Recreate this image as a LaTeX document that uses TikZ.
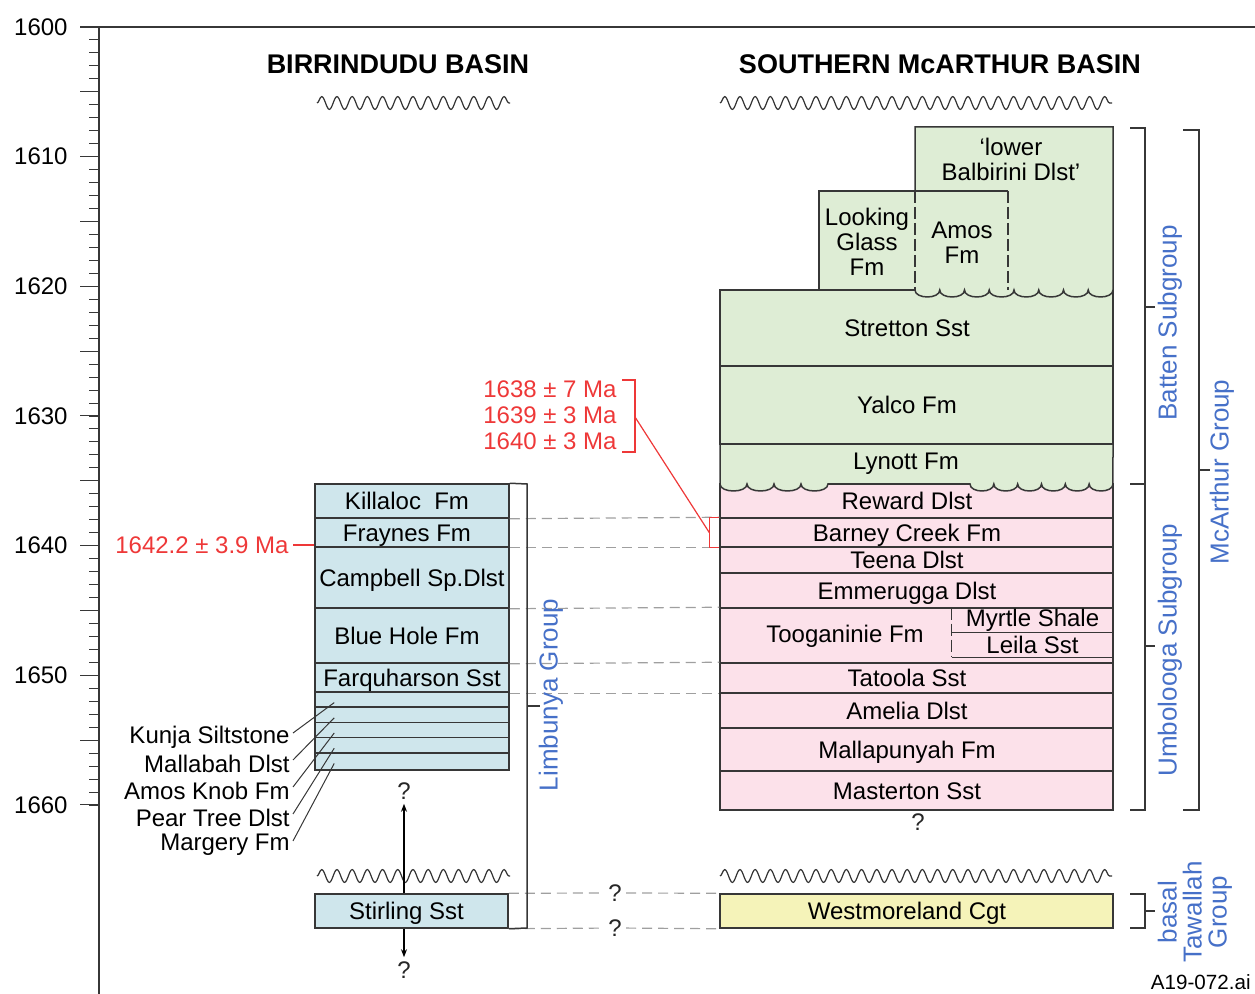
\documentclass[tikz,border=0pt]{standalone}
\usepackage{fontspec}
\setmainfont{Liberation Sans}
\usepackage{tikz}
\usetikzlibrary{positioning,arrows.meta,calc,decorations.pathmorphing}
\definecolor{birblue}{RGB}{207,230,236}
\definecolor{batgreen}{RGB}{222,237,213}
\definecolor{umbpink}{RGB}{252,225,234}
\definecolor{tawyellow}{RGB}{245,243,185}
\definecolor{grpblue}{RGB}{70,112,200}
\definecolor{agered}{RGB}{238,56,56}
\definecolor{edgegray}{RGB}{55,55,55}

\begin{document}
\begin{tikzpicture}[x=0.5pt, y=-0.5pt, >={Stealth[length=4pt,width=3pt]},
  every node/.style={font=\fontsize{12}{12.5}\selectfont, align=center, inner sep=0pt},
  lyr/.style={draw=edgegray, line width=0.75pt, fill=#1, text height=8.6pt, text depth=0pt},
  lyr/.default=umbpink,
  llyr/.style={lyr=birblue, execute at end node=\hspace*{5pt}},
  rlyr/.style={lyr=#1, execute at end node=\hspace*{9.5pt}},
  rlyr/.default=umbpink,
  edge/.style={draw=edgegray, line width=0.75pt},
  corr/.style={draw=gray!75, line width=0.6pt, dash pattern=on 5pt off 3pt},
  wavy/.style={draw=gray!40!black, line width=0.6pt, decorate,
    decoration={snake, amplitude=3.2pt, segment length=7.6pt}},
  grp/.style={rotate=90, text=grpblue, font=\fontsize{13}{12.5}\selectfont},
  qmark/.style={text=black!85, inner sep=2pt}]
  \def\lw{97pt}  \def\rw{196.5pt}
  \useasboundingbox (0,0) rectangle (1255,994);

  % age axis
  \draw[edge, line width=0.6pt] (80,27) -- (1255,27);
  \draw[edge, line width=0.6pt] (99,27) -- (99,994);
  \foreach \i in {0,...,60}
    \draw[edge, line width=0.5pt] (89,{27+12.967*\i}) -- (99,{27+12.967*\i});
  \foreach \i in {0,...,12}
    \draw[edge, line width=0.5pt] (80,{27+64.83*\i}) -- (99,{27+64.83*\i});
  \foreach \i in {0,...,6} {
    \pgfmathtruncatemacro\yr{1600+10*\i}
    \node[anchor=east] (yr\i) at (68,{27+129.67*\i}) {\yr};
  }

  \node[font=\bfseries\fontsize{13.5}{14}\selectfont] (birtitle) at (398,64) {BIRRINDUDU BASIN};
  \node[font=\bfseries\fontsize{13.5}{14}\selectfont] (mcatitle) at (940,64) {SOUTHERN McARTHUR BASIN};

  \draw[wavy] (317,103) -- (510,103);
  \draw[wavy] (720,103) -- (1112,103);
  \draw[wavy] (317,876) -- (510,876);
  \draw[wavy] (720,876) -- (1112,876);

  % Birrindudu column
  \node[llyr, minimum width=\lw, minimum height=17pt] (killaloc) at (412,501) {Killaloc\ \ Fm};
  \node[llyr, minimum width=\lw, minimum height=14.5pt] (fraynes) at (412,532.5) {Fraynes Fm};
  \node[lyr=birblue, minimum width=\lw, minimum height=30.5pt] (campbell) at (412,577.5) {Campbell Sp.Dlst};
  \node[llyr, minimum width=\lw, minimum height=27.5pt] (bluehole) at (412,635.5) {Blue Hole Fm};
  \node[lyr=birblue, minimum width=\lw, minimum height=15pt] (farq) at (412,678) {Farquharson Sst};
  \foreach \i in {0,...,4}
    \node[lyr=birblue, minimum width=\lw, minimum height=7.6pt] (thin\i) at (412,{700.6+15.2*\i}) {};
  \node[llyr, minimum width=96.5pt, minimum height=17pt] (stirling) at (411.5,911) {Stirling Sst};

  \foreach \unitname [count=\i from 0] in {Kunja Siltstone, Mallabah Dlst, Amos Knob Fm, Pear Tree Dlst, Margery Fm}
    \node[anchor=east] (unit\i) at (290,{737+27*\i}) {\unitname};
  \foreach \i in {0,...,4}
    \draw[edgegray, line width=0.5pt] ([xshift=1.5pt,yshift=2pt]unit\i.east) -- ($(thin\i.west)+(20,2)$);

  \node[qmark] (qup) at (404,791) {?};
  \node[qmark] (qdown) at (404,970) {?};
  \draw[->, black, line width=0.6pt] (stirling.north -| qup) -- (qup);
  \draw[->, black, line width=0.6pt] (stirling.south -| qdown) -- (qdown);

  % southern McArthur column
  \node[rlyr, minimum width=\rw, minimum height=17pt] (reward) at (916.5,501) {Reward Dlst};
  \node[rlyr, minimum width=\rw, minimum height=14.5pt] (barney) at (916.5,532.5) {Barney Creek Fm};
  \node[rlyr, minimum width=\rw, minimum height=13pt] (teena) at (916.5,560) {Teena Dlst};
  \node[rlyr, minimum width=\rw, minimum height=17.5pt] (emmerugga) at (916.5,590.5) {Emmerugga Dlst};
  \node[rlyr, minimum width=\rw, minimum height=27.5pt] (tooganinie) at (916.5,635.5) {};
  \node[rlyr, minimum width=\rw, minimum height=15pt] (tatoola) at (916.5,678) {Tatoola Sst};
  \node[rlyr, minimum width=\rw, minimum height=17.5pt] (amelia) at (916.5,710.5) {Amelia Dlst};
  \node[rlyr, minimum width=\rw, minimum height=21.5pt] (mallapunyah) at (916.5,749.5) {Mallapunyah Fm};
  \node[rlyr, minimum width=\rw, minimum height=19.5pt] (masterton) at (916.5,790.5) {Masterton Sst};
  \node[rlyr=tawyellow, minimum width=\rw, minimum height=17pt] (westmoreland) at (916.5,911) {Westmoreland Cgt};

  \node (toogtext) at (845,636) {Tooganinie Fm};
  \node[minimum width=80.5pt, minimum height=12pt] (myrtle) at (1032.5,620) {Myrtle Shale};
  \node[minimum width=80.5pt, minimum height=12.5pt] (leila) at (1032.5,644.5) {Leila Sst};
  \draw[edge, dash pattern=on 6pt off 2pt] (myrtle.north west) -- (leila.south west);
  \draw[edge] (myrtle.south west) -- (myrtle.south east);
  \draw[edge] (leila.south west) -- (leila.south east);
  \node[qmark] (qmast) at (918,822) {?};

  \draw[edge, fill=batgreen] (720,444) -- (720,484)
    \foreach \k in {0,...,3} { .. controls ({720+27*\k},493.3) and ({720+27*(\k+1)},493.3) .. ({720+27*(\k+1)},484) }
    -- (970,484)
    \foreach \k in {0,...,5} { .. controls ({970+23.83*\k},493.3) and ({970+23.83*(\k+1)},493.3) .. ({970+23.83*(\k+1)},484) }
    -- (1113,444);
  \node (lynott) at (906,464) {Lynott Fm};
  \node[rlyr=batgreen, minimum width=\rw, minimum height=39pt] (yalco) at (916.5,405) {Yalco Fm};
  \node[rlyr=batgreen, minimum width=\rw, minimum height=38pt] (stretton) at (916.5,328) {Stretton Sst};

  \draw[edge, fill=batgreen] (915,290) -- (819,290) -- (819,191) -- (915,191);
  \node (lookglass) at (867,242) {Looking\\Glass\\Fm};
  \draw[edge, fill=batgreen] (915,191) -- (915,127) -- (1113,127) -- (1113,290)
    \foreach \k in {0,...,7} { .. controls ({1113-24.75*\k},299.3) and ({1113-24.75*(\k+1)},299.3) .. ({1113-24.75*(\k+1)},290) };
  \node (balbirini) at (1011,159) {‘lower\\Balbirini Dlst’};
  \draw[edge] (915,191) -- (1008,191);
  \draw[edge, dash pattern=on 6pt off 2pt] (915,191) -- (915,290) (1008,191) -- (1008,290);
  \node (amos) at (962,243) {Amos\\Fm};

  % correlation lines
  \draw[corr] (killaloc.south east) -- (barney.north west);
  \draw[corr] (fraynes.south east) -- (barney.south west);
  \draw[corr] (campbell.south east) -- (tooganinie.north west);
  \draw[corr] (bluehole.south east) -- (tatoola.north west);
  \draw[corr] (farq.south east) -- (tatoola.south west);
  \node[qmark] (qtop) at (615,893) {?};
  \node[qmark] (qbot) at (615,928) {?};
  \draw[corr] (stirling.north east) -- (qtop) -- (westmoreland.north west);
  \draw[corr] (stirling.south east) -- (qbot) -- (westmoreland.south west);

  % ages
  \node[anchor=east, text=agered] (agebir) at (289,545) {1642.2 ± 3.9 Ma};
  \draw[agered, line width=0.6pt] ([xshift=2pt]agebir.east) -- (agebir.east -| campbell.west);
  \node[anchor=east, text=agered, font=\fontsize{12}{13}\selectfont, align=right] (agemca) at (617,415)
    {1638 ± 7 Ma\\1639 ± 3 Ma\\1640 ± 3 Ma};
  \draw[agered, line width=0.6pt] (622,380) -- (635,380) -- (635,452) -- (622,452);
  \coordinate (agebrk) at (635,417);
  \draw[agered, line width=0.6pt] (barney.north west) -- ++(-10,0) |- (barney.south west);
  \draw[agered, line width=0.6pt] (agebrk) -- ($(barney.west)+(-10,0)$);

  % groups
  \draw[edge] (killaloc.north east) -- (527,484) -- (527,928) -- (stirling.south east);
  \draw[edge] (527,706) -- (540,706);
  \node[grp] (limbunya) at (551,695) {Limbunya Group};

  \draw[edge] (1130,128) -- (1145,128) -- (1145,810) -- (1130,810);
  \draw[edge] (1130,484) -- (1145,484) (1145,307) -- (1155,307) (1145,646) -- (1155,646);
  \node[grp] (batten) at (1170,323) {Batten Subgroup};
  \node[grp] (umbolooga) at (1170,650) {Umbolooga Subgroup};
  \draw[edge] (1183,130) -- (1199,130) -- (1199,810) -- (1183,810) (1199,470) -- (1210,470);
  \node[grp] (mcarthur) at (1222,472) {McArthur Group};
  \draw[edge] (1130,894) -- (1145,894) -- (1145,928) -- (1130,928) (1145,911) -- (1155,911);
  \node[grp] (tawallah) at (1195,912) {basal\\Tawallah\\Group};

  \node[anchor=east, font=\fontsize{10.3}{11}\selectfont] (fileid) at (1251,982) {A19-072.ai};
\end{tikzpicture}
\end{document}
